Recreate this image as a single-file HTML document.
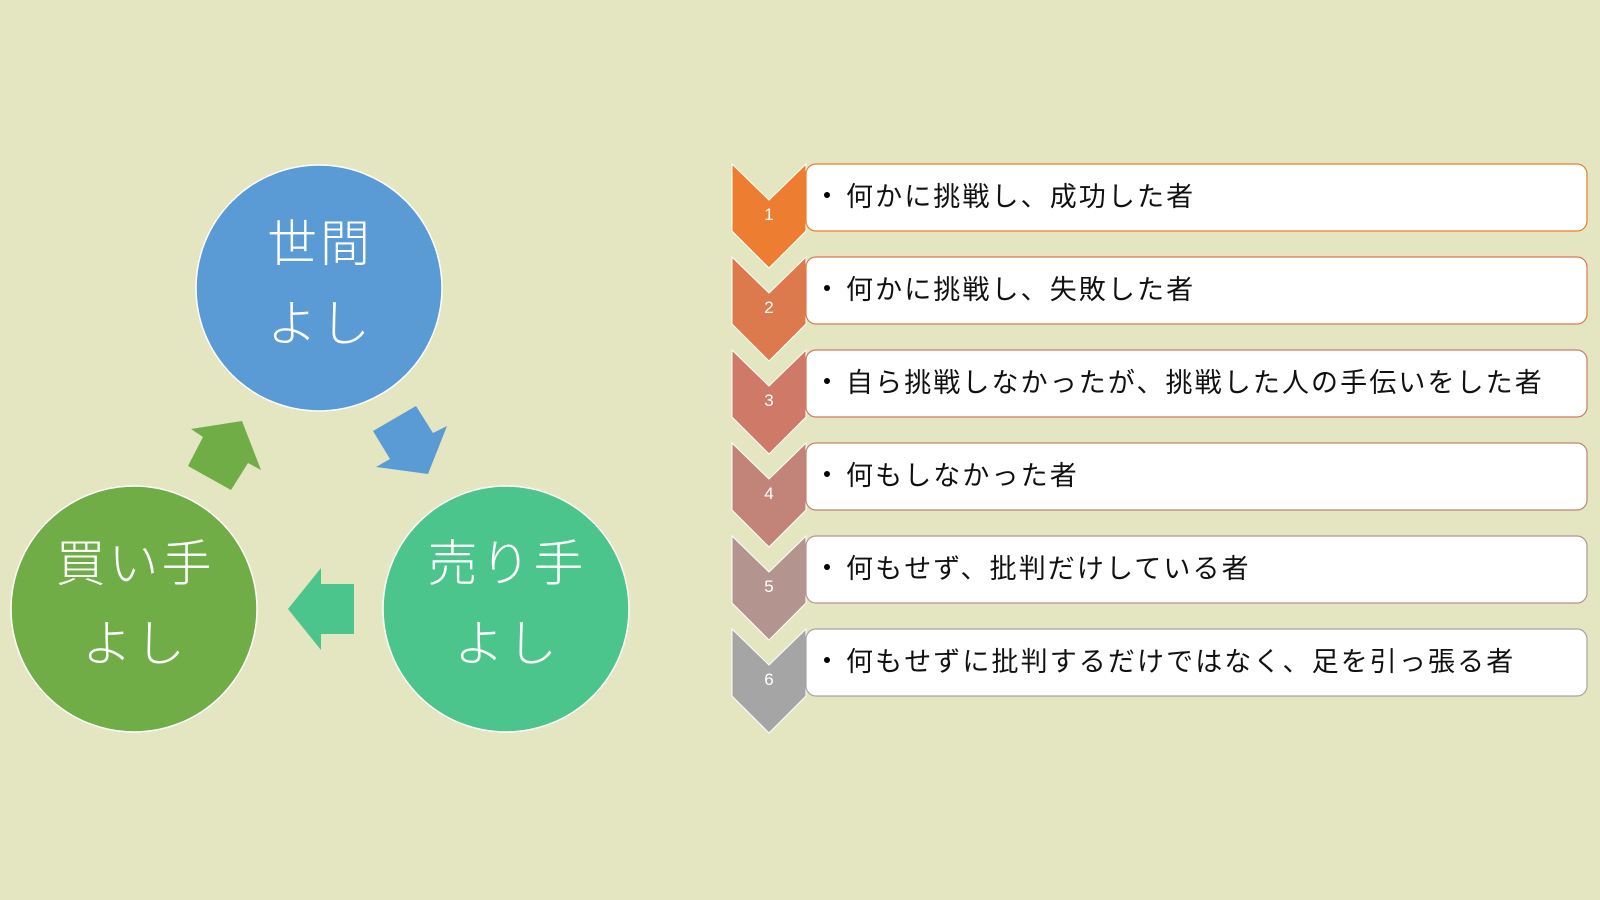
<!DOCTYPE html>
<html><head><meta charset="utf-8"><style>
body{margin:0;width:1600px;height:900px;background:#E4E5C1;overflow:hidden;font-family:"Liberation Sans","Noto Sans CJK JP",sans-serif;}
</style></head><body>
<svg width="1600" height="900" xmlns="http://www.w3.org/2000/svg" style="position:absolute;left:0;top:0">
<circle cx="319" cy="288" r="123" fill="#5B9BD5" stroke="#fff" stroke-width="1.5"/>
<circle cx="134" cy="609" r="123" fill="#70AD47" stroke="#fff" stroke-width="1.5"/>
<circle cx="506" cy="609" r="123" fill="#4CC58C" stroke="#fff" stroke-width="1.5"/>
<g fill="#fff" font-size="50" text-anchor="middle" font-family="'Liberation Sans','Noto Sans CJK JP',sans-serif" font-weight="300" letter-spacing="3">
<text x="320" y="261">世間</text><text x="320" y="341">よし</text>
<text x="135" y="581">買い手</text><text x="135" y="661">よし</text>
<text x="507" y="581">売り手</text><text x="507" y="661">よし</text>
</g>
<polygon fill="#5B9BD5" points="373,431 416,406 433,433 447,426 428,474 376,467 390,459"/>
<polygon fill="#70AD47" points="191,429 242,421 261,470 248,463 231,490 188,466 203,437"/>
<polygon fill="#4CC58C" points="288,609 321,568 321,584 354,584 354,634 321,634 321,650"/>
<g font-family="'Liberation Sans','Noto Sans CJK JP',sans-serif">
<g id="rows"></g>
</g>
</svg>
<script>
var cols=["#ED7D31","#DC7A4E","#CF7A68","#C28478","#B4948F","#A5A5A5"];
var txt=["何かに挑戦し、成功した者","何かに挑戦し、失敗した者","自ら挑戦しなかったが、挑戦した人の手伝いをした者","何もしなかった者","何もせず、批判だけしている者","何もせずに批判するだけではなく、足を引っ張る者"];
var s="";
for(var i=0;i<6;i++){var t=164+93*i,c=cols[i];
s+='<polygon fill="'+c+'" stroke="#fff" stroke-width="1" points="732,'+t+' 769,'+(t+36)+' 806,'+t+' 806,'+(t+67)+' 769,'+(t+104)+' 732,'+(t+67)+'"/>';
s+='<text x="769" y="'+(t+56)+'" fill="#fff" font-size="17" text-anchor="middle">'+(i+1)+'</text>';
s+='<rect x="806" y="'+t+'" width="781" height="67" rx="10" fill="#fff" stroke="'+c+'" stroke-width="1.2"/>';
s+='<circle cx="827" cy="'+(t+31)+'" r="3" fill="#000"/>';
s+='<text x="846" y="'+(t+42)+'" fill="#111" font-size="27" letter-spacing="2.1">'+txt[i]+'</text>';}
document.getElementById("rows").innerHTML=s;
</script>
</body></html>
